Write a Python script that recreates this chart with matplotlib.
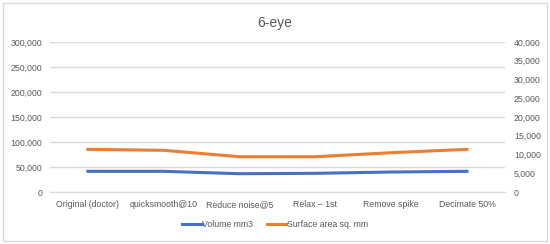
import matplotlib.pyplot as plt
from matplotlib.patches import Rectangle
from matplotlib.ticker import FuncFormatter

plt.rcParams['font.family'] = ['Liberation Sans', 'DejaVu Sans']

categories = ['Original (doctor)', 'quicksmooth@10', 'Reduce noise@5',
              'Relax \u2013 1st', 'Remove spike', 'Decimate 50%']
volume = [41400, 41400, 36600, 37400, 40000, 41400]
surface = [11380, 11120, 9410, 9410, 10480, 11380]

grey = '#595959'
fig = plt.figure(figsize=(5.5, 2.44), dpi=100)
fig.patches.append(Rectangle((0.006, 0.012), 0.988, 0.976, transform=fig.transFigure,
                             fill=False, edgecolor='#D9D9D9', linewidth=1))

ax = fig.add_axes([0.0909, 0.213, 0.827, 0.615])
ax2 = ax.twinx()
x = list(range(len(categories)))

l1, = ax.plot(x, volume, color='#4472C4', lw=2.2, label='Volume mm3')
l2, = ax2.plot(x, surface, color='#ED7D31', lw=2.2, label='Surface area sq. mm')

ax.set_xlim(-0.5, 5.5)
ax.set_ylim(0, 300000)
ax.set_yticks(range(0, 300001, 50000))
ax2.set_ylim(0, 40000)
ax2.set_yticks(range(0, 40001, 5000))
fmt = FuncFormatter(lambda v, p: f'{int(v):,}')
ax.yaxis.set_major_formatter(fmt)
ax2.yaxis.set_major_formatter(fmt)
ax.set_xticks(x)
ax.set_xticklabels(categories)

ax.grid(axis='y', color='#D9D9D9', lw=1)
ax.set_axisbelow(True)
for a in (ax, ax2):
    for s in a.spines.values():
        s.set_visible(False)
    a.tick_params(length=0, labelsize=6.3, colors=grey, pad=6)
ax.spines['bottom'].set_visible(True)
ax.spines['bottom'].set_color('#D9D9D9')
ax.tick_params(axis='y', pad=5.5)
ax2.tick_params(axis='y', pad=6.5)

fig.text(0.5, 0.905, '6-eye', ha='center', va='center', fontsize=10, color=grey)
fig.legend(handles=[l1, l2], loc='center', bbox_to_anchor=(0.5, 0.078), ncol=2,
           frameon=False, fontsize=6.3, labelcolor=grey, handlelength=2.2,
           handletextpad=0.1, columnspacing=1.5)

fig.savefig('out.png', dpi=100)
